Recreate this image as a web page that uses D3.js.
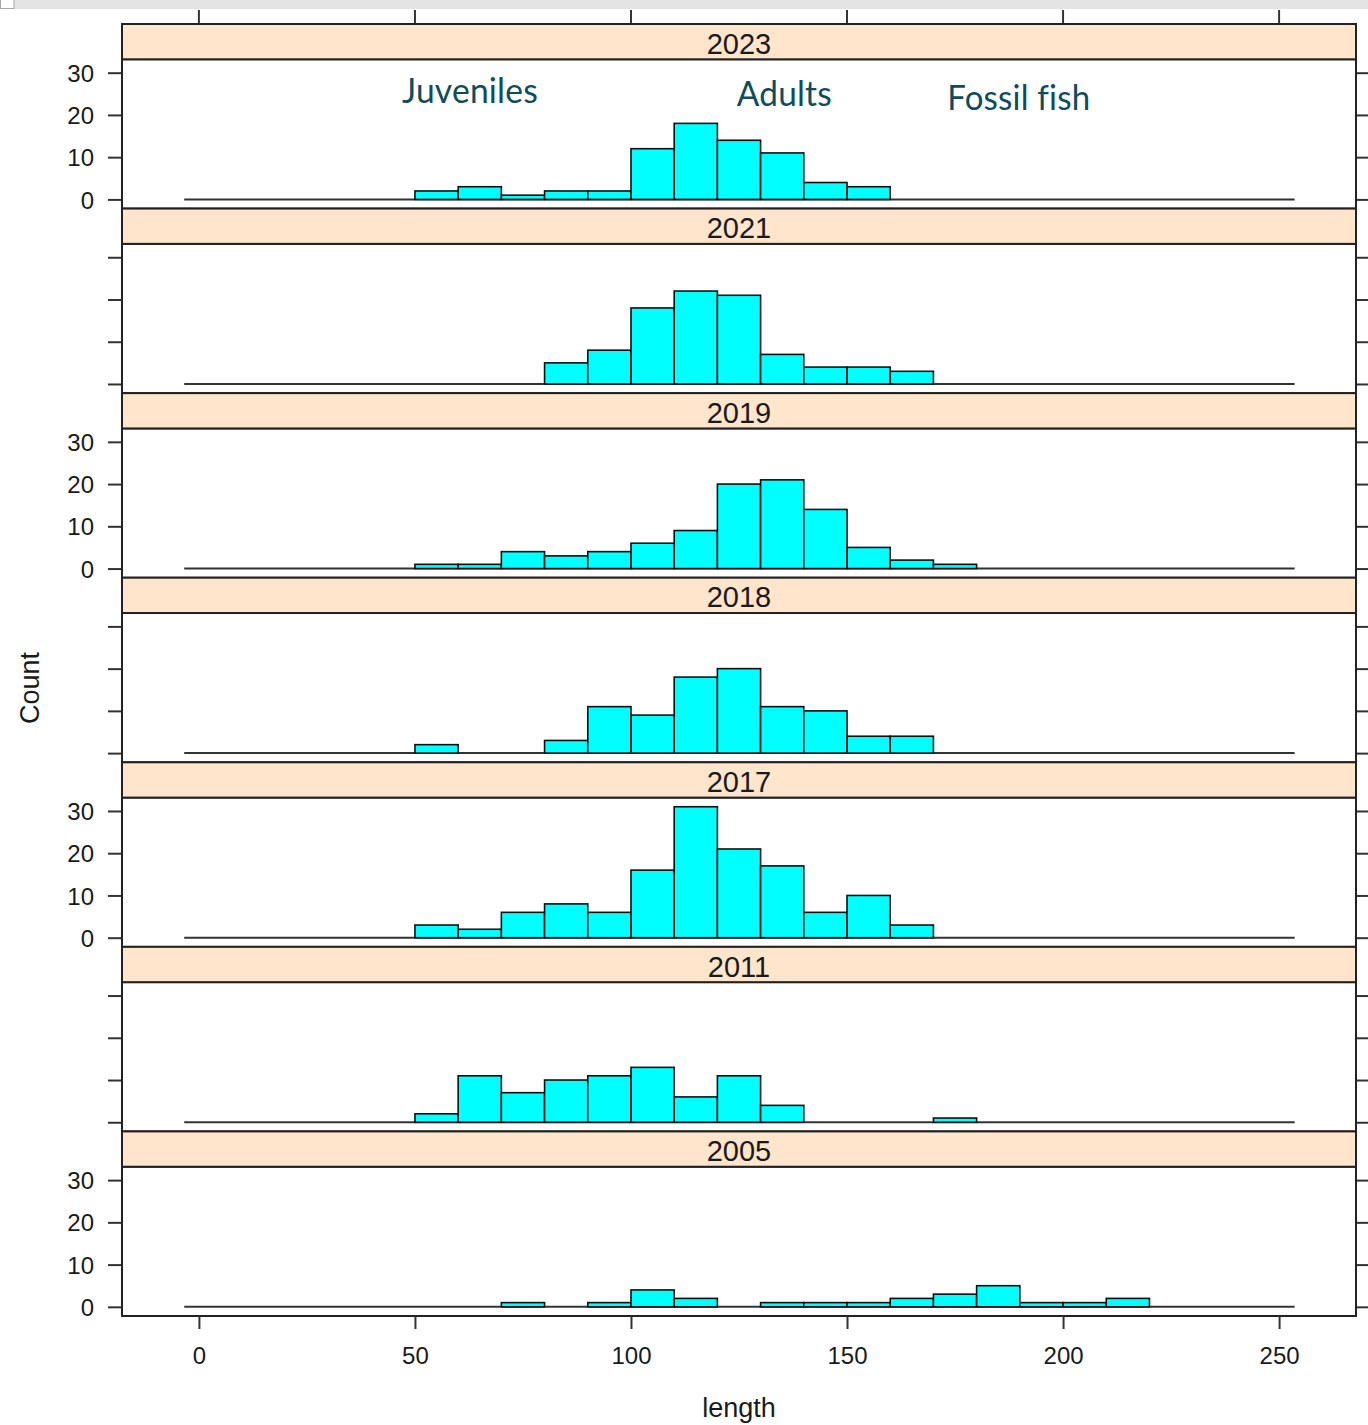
<!DOCTYPE html>
<html>
<head>
<meta charset="utf-8">
<script src="https://cdn.jsdelivr.net/npm/d3@7"></script>
<style>
  html, body { margin: 0; padding: 0; background: #ffffff; }
  svg { display: block; }
  .note { font-variant-ligatures: none; font-feature-settings: "liga" 0; letter-spacing: 0.2px; }
</style>
</head>
<body>
<svg id="chart" width="1368" height="1425"></svg>
<script>
// Fish length histograms by survey year (bins of 10 length units)
const years = ["2023", "2021", "2019", "2018", "2017", "2011", "2005"];
const binEdges = [50, 60, 70, 80, 90, 100, 110, 120, 130, 140, 150, 160, 170, 180, 190, 200, 210, 220];

const counts2023 = [2, 3, 1, 2, 2, 12, 18, 14, 11, 4, 3, 0, 0, 0, 0, 0, 0];
const counts2021 = [0, 0, 0, 5, 8, 18, 22, 21, 7, 4, 4, 3, 0, 0, 0, 0, 0];
const counts2019 = [1, 1, 4, 3, 4, 6, 9, 20, 21, 14, 5, 2, 1, 0, 0, 0, 0];
const counts2018 = [2, 0, 0, 3, 11, 9, 18, 20, 11, 10, 4, 4, 0, 0, 0, 0, 0];
const counts2017 = [3, 2, 6, 8, 6, 16, 31, 21, 17, 6, 10, 3, 0, 0, 0, 0, 0];
const counts2011 = [2, 11, 7, 10, 11, 13, 6, 11, 4, 0, 0, 0, 1, 0, 0, 0, 0];
const counts2005 = [0, 0, 1, 0, 1, 4, 2, 0, 1, 1, 1, 2, 3, 5, 1, 1, 2];

const countsByYear = {
  "2023": counts2023, "2021": counts2021, "2019": counts2019, "2018": counts2018,
  "2017": counts2017, "2011": counts2011, "2005": counts2005
};

const xTicks = [0, 50, 100, 150, 200, 250];
const yTicks = [0, 10, 20, 30];
const xLimits = [-17.8, 267.8];
const yLimits = [-2.17, 33.17];
const baselineSpan = [-3.4, 253.6];

const annotations = [
  { text: "Juveniles", x: 47, y: 22.8, width: 136 },
  { text: "Adults", x: 124.5, y: 22.1, width: 95 },
  { text: "Fossil fish", x: 173.2, y: 21.1, width: 143 }
];

// ---- layout ----
const svg = d3.select("#chart");
const frameLeft = 122, frameRight = 1356, frameTop = 24, frameBottom = 1316;
const stripH = 35.3;
const rowH = (frameBottom - frameTop) / years.length;
const axisFont = "'Liberation Sans', Arial, sans-serif";
const ink = "#1a1a1a";

const x = d3.scaleLinear().domain(xLimits).range([frameLeft, frameRight]);

// window chrome strip at the very top
svg.append("rect").attr("x", 0).attr("y", 0).attr("width", 1368).attr("height", 9).attr("fill", "#e4e4e4");
svg.append("rect").attr("x", 0.5).attr("y", -1).attr("width", 13.5).attr("height", 9.5)
  .attr("fill", "#ffffff").attr("stroke", "#a8a8a8").attr("stroke-width", 1);

// top axis ticks
svg.append("g").selectAll("line").data(xTicks).join("line")
  .attr("x1", d => x(d)).attr("x2", d => x(d))
  .attr("y1", 10).attr("y2", frameTop)
  .attr("stroke", "#333").attr("stroke-width", 2);

years.forEach((yr, i) => {
  const rowTop = frameTop + i * rowH;
  const plotTop = rowTop + stripH;
  const plotBottom = rowTop + rowH;
  const y = d3.scaleLinear().domain(yLimits).range([plotBottom, plotTop]);
  const g = svg.append("g");

  // panel background
  g.append("rect").attr("x", frameLeft).attr("y", plotTop)
    .attr("width", frameRight - frameLeft).attr("height", plotBottom - plotTop)
    .attr("fill", "#ffffff");

  // baseline
  g.append("line")
    .attr("x1", x(baselineSpan[0])).attr("x2", x(baselineSpan[1]))
    .attr("y1", y(0)).attr("y2", y(0))
    .attr("stroke", "#333").attr("stroke-width", 2);

  // histogram bars
  const bins = countsByYear[yr].map((c, k) => ({ x0: binEdges[k], x1: binEdges[k + 1], n: c }))
    .filter(b => b.n > 0);
  g.append("g").selectAll("rect").data(bins).join("rect")
    .attr("x", d => x(d.x0)).attr("width", d => x(d.x1) - x(d.x0))
    .attr("y", d => y(d.n)).attr("height", d => y(0) - y(d.n))
    .attr("fill", "#00ffff").attr("stroke", "#111").attr("stroke-width", 1.6);

  // left and right tick marks
  const leftAxis = d3.axisLeft(y).tickValues(yTicks).tickSize(14).tickPadding(14)
    .tickFormat(i % 2 === 0 ? d3.format("d") : () => "");
  const la = g.append("g").attr("transform", `translate(${frameLeft},0)`).call(leftAxis);
  la.select(".domain").remove();
  la.selectAll("line").attr("stroke", "#333").attr("stroke-width", 2);
  la.selectAll("text").attr("font-family", axisFont).attr("font-size", 24).attr("fill", ink)
    .attr("dy", "0.36em");

  const rightAxis = d3.axisRight(y).tickValues(yTicks).tickSize(14).tickFormat(() => "");
  const ra = g.append("g").attr("transform", `translate(${frameRight},0)`).call(rightAxis);
  ra.select(".domain").remove();
  ra.selectAll("line").attr("stroke", "#333").attr("stroke-width", 2);

  // panel border
  g.append("rect").attr("x", frameLeft).attr("y", plotTop)
    .attr("width", frameRight - frameLeft).attr("height", plotBottom - plotTop)
    .attr("fill", "none").attr("stroke", "#222").attr("stroke-width", 2);

  // strip with year
  g.append("rect").attr("x", frameLeft).attr("y", rowTop)
    .attr("width", frameRight - frameLeft).attr("height", stripH)
    .attr("fill", "#ffe5cc").attr("stroke", "#222").attr("stroke-width", 2);
  g.append("text").attr("x", (frameLeft + frameRight) / 2).attr("y", rowTop + stripH / 2 + 2)
    .attr("text-anchor", "middle").attr("dominant-baseline", "central")
    .attr("font-family", axisFont).attr("font-size", 29).attr("fill", ink)
    .text(yr);

  // labels in the top panel
  if (i === 0) {
    g.append("g").selectAll("text").data(annotations).join("text")
      .attr("class", "note")
      .attr("x", d => x(d.x)).attr("y", d => y(d.y))
      .attr("font-family", "Lato, 'Open Sans', sans-serif").attr("font-size", 34)
      .attr("fill", "#0f4c5c")
      .attr("textLength", d => d.width).attr("lengthAdjust", "spacingAndGlyphs")
      .text(d => d.text);
  }
});

// bottom x axis
const xAxis = d3.axisBottom(x).tickValues(xTicks).tickSize(13).tickPadding(18).tickFormat(d3.format("d"));
const xa = svg.append("g").attr("transform", `translate(0,${frameBottom})`).call(xAxis);
xa.select(".domain").remove();
xa.selectAll("line").attr("stroke", "#333").attr("stroke-width", 2);
xa.selectAll("text").attr("font-family", axisFont).attr("font-size", 24).attr("fill", ink);

// axis titles
svg.append("text").attr("x", (frameLeft + frameRight) / 2).attr("y", 1417)
  .attr("text-anchor", "middle").attr("font-family", axisFont).attr("font-size", 27).attr("fill", ink)
  .text("length");
svg.append("text").attr("transform", `translate(39,${(frameTop + frameBottom) / 2 + 18}) rotate(-90)`)
  .attr("text-anchor", "middle").attr("font-family", axisFont).attr("font-size", 27).attr("fill", ink)
  .text("Count");
</script>
</body>
</html>
